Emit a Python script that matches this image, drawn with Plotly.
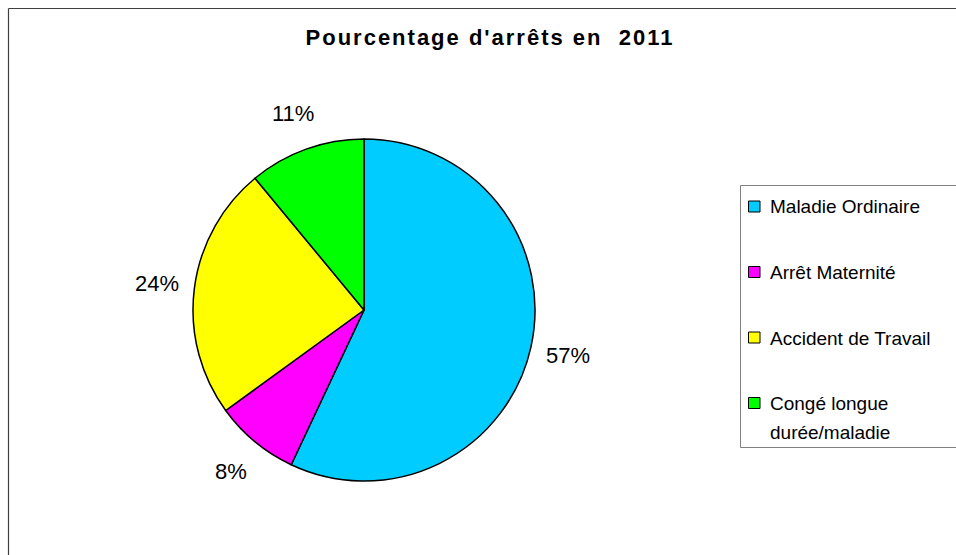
import math
import plotly.graph_objects as go

W, H = 956, 555

categories = ["Maladie Ordinaire", "Arrêt Maternité", "Accident de Travail", "Congé longue durée/maladie"]
legend_lines = [["Maladie Ordinaire"], ["Arrêt Maternité"], ["Accident de Travail"], ["Congé longue", "durée/maladie"]]
values = [57, 8, 24, 11]
colors = ["#00CCFF", "#FF00FF", "#FFFF00", "#00FF00"]
title_text = "Pourcentage d'arrêts en  2011"

FONT = "Liberation Sans, Arial, sans-serif"

# helpers: page pixel -> paper fraction
def px(x):
    return x / W

def py(y):
    return 1 - y / H

# pie geometry (page pixels)
cx, cy, r = 364, 310, 171
label_r = 209

fig = go.Figure()
fig.add_trace(go.Pie(
    labels=categories,
    values=values,
    sort=False,
    direction="clockwise",
    rotation=0,
    marker=dict(colors=colors, line=dict(color="black", width=1.5)),
    textinfo="none",
    domain=dict(x=[px(cx - r), px(cx + r)], y=[py(cy + r), py(cy - r)]),
    showlegend=False,
    hoverinfo="label+percent",
))

annotations = []
# percentage labels placed outside the pie at each slice's mid-angle
total = sum(values)
cum = 0
for v in values:
    mid = (cum + v / 2) / total * 2 * math.pi
    cum += v
    lx = cx + label_r * math.sin(mid)
    ly = cy - label_r * math.cos(mid)
    annotations.append(dict(text=f"{round(100 * v / total)}%", xref="paper", yref="paper",
                            x=px(lx), y=py(ly), xanchor="center", yanchor="middle", showarrow=False,
                            font=dict(family=FONT, size=22, color="black")))

shapes = []
# outer frame (top and left edges visible)
shapes.append(dict(type="line", xref="paper", yref="paper", x0=px(8.5), x1=px(W + 10), y0=py(8.5), y1=py(8.5),
                   line=dict(color="#404040", width=1.2)))
shapes.append(dict(type="line", xref="paper", yref="paper", x0=px(8.5), x1=px(8.5), y0=py(8.5), y1=py(H + 10),
                   line=dict(color="#404040", width=1.2)))
# legend box
shapes.append(dict(type="rect", xref="paper", yref="paper", x0=px(740.5), x1=px(W + 20), y0=py(447.5), y1=py(185.5),
                   line=dict(color="#808080", width=1), fillcolor="rgba(0,0,0,0)"))

first_y, step, line_gap = 206.5, 65.5, 29
for i, (lines, col) in enumerate(zip(legend_lines, colors)):
    yc = first_y + i * step
    shapes.append(dict(type="rect", xref="paper", yref="paper", x0=px(748.5), x1=px(760), y0=py(yc + 5.5), y1=py(yc - 5.5),
                       line=dict(color="black", width=1), fillcolor=col))
    for j, t in enumerate(lines):
        annotations.append(dict(text=t, xref="paper", yref="paper", x=px(768), y=py(yc + j * line_gap + 0.5),
                                xanchor="left", yanchor="middle", showarrow=False,
                                font=dict(family=FONT, size=19, color="black")))

fig.update_layout(
    width=W, height=H,
    margin=dict(l=0, r=0, t=0, b=0),
    paper_bgcolor="white",
    plot_bgcolor="white",
    title=dict(text="<b>" + title_text + "</b>", x=px(490), xanchor="center", xref="paper",
               y=py(37), yanchor="middle", yref="container",
               font=dict(family=FONT, size=22, color="black")),
    shapes=shapes,
    annotations=annotations,
    showlegend=False,
)

post = (
    "document.body.style.margin='0';"
    "document.body.style.overflow='hidden';"
    "var s=document.createElement('style');"
    "s.textContent='.gtitle{letter-spacing:2px;}';"
    "document.head.appendChild(s);"
)

fig.write_html("out.html", config={"displayModeBar": False}, post_script=post)
